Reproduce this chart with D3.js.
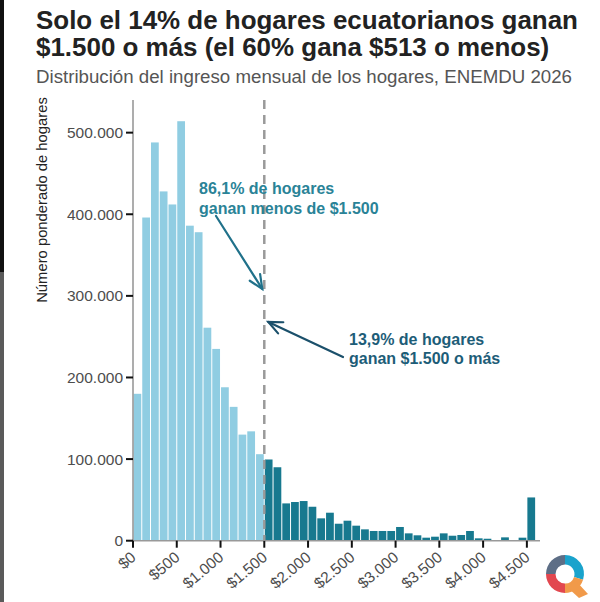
<!DOCTYPE html>
<html>
<head>
<meta charset="utf-8">
<script src="https://cdn.jsdelivr.net/npm/d3@7"></script>
<style>
  html, body { margin: 0; padding: 0; background: #fff; }
  svg { display: block; font-family: "Liberation Sans", Arial, sans-serif; }
</style>
</head>
<body>
<svg id="chart" width="600" height="602"></svg>
<script>
// ---- Data ----
const binStart = [0,100,200,300,400,500,600,700,800,900,1000,1100,1200,1300,1400,
  1500,1600,1700,1800,1900,2000,2100,2200,2300,2400,2500,2600,2700,2800,2900,
  3000,3100,3200,3300,3400,3500,3600,3700,3800,3900,4000,4100,4200,4300,4400,4500];
const households = [180000,396000,488000,428000,412000,514000,386000,378000,261000,235000,
  188000,164000,130000,134000,106000,
  99500,90000,45700,47400,48600,41600,27400,34300,20800,24500,18400,13900,11900,11900,11900,
  16800,9000,6600,3700,4900,9000,6100,7000,11900,2900,2400,0,4100,0,3700,53000];
const binWidth = 100;
const threshold = 1500;
const yTicks = [0,100000,200000,300000,400000,500000];
const xTicks = [0,500,1000,1500,2000,2500,3000,3500,4000,4500];
const titleLines = ["Solo el 14% de hogares ecuatorianos ganan", "$1.500 o más (el 60% gana $513 o menos)"];
const subtitle = "Distribución del ingreso mensual de los hogares, ENEMDU 2026";
const yTitle = "Número ponderado de hogares";
const noteLow = ["86,1% de hogares", "ganan menos de $1.500"];
const noteHigh = ["13,9% de hogares", "ganan $1.500 o más"];

// ---- Setup ----
const svg = d3.select("#chart");
const locale = d3.formatLocale({decimal: ",", thousands: ".", grouping: [3], currency: ["$", ""]});
const fmtY = locale.format(",");
const fmtX = v => "$" + locale.format(",")(v);

const x = d3.scaleLinear().domain([0, 4650]).range([133, 540]);
const y = d3.scaleLinear().domain([0, 540000]).range([540.7, 100]);

const colLight = "#90cde2", colDark = "#17798f";

// screenshot edge strip
svg.append("rect").attr("x",0).attr("y",0).attr("width",4).attr("height",272).attr("fill","#111");
svg.append("rect").attr("x",0).attr("y",272).attr("width",4).attr("height",330).attr("fill","#5a5a5a");

// ---- Titles ----
function fit(sel, w) {
  const len = sel.node().getComputedTextLength();
  const fs = parseFloat(sel.attr("font-size"));
  sel.attr("font-size", (fs * w / len).toFixed(2));
}
const t1 = svg.append("text").attr("x",36).attr("y",29).attr("font-size",25).attr("font-weight","bold").attr("fill","#222").text(titleLines[0]);
fit(t1, 542);
svg.append("text").attr("x",36).attr("y",56).attr("font-size",t1.attr("font-size")).attr("font-weight","bold").attr("fill","#222").text(titleLines[1]);
const st = svg.append("text").attr("x",36).attr("y",83).attr("font-size",17).attr("fill","#555").text(subtitle);
fit(st, 536);

// ---- Bars ----
svg.append("g").selectAll("rect").data(binStart).join("rect")
  .attr("x", (d) => x(d) + 0.5)
  .attr("width", (d) => x(d + binWidth) - x(d) - 1)
  .attr("y", (d, i) => y(households[i]))
  .attr("height", (d, i) => y(0) - y(households[i]))
  .attr("fill", (d) => d < threshold ? colLight : colDark);

// ---- Axes ----
const tickFont = 15.5;
const yAxis = svg.append("g");
yAxis.append("line").attr("x1", x(0)).attr("x2", x(0)).attr("y1", y.range()[1]).attr("y2", y(0)).attr("stroke","#999").attr("stroke-width",1.6);
yAxis.selectAll("line.tk").data(yTicks).join("line").attr("class","tk")
  .attr("x1", x(0) - 7).attr("x2", x(0)).attr("y1", d => y(d)).attr("y2", d => y(d))
  .attr("stroke","#111").attr("stroke-width",2);
yAxis.selectAll("text").data(yTicks).join("text")
  .attr("x", x(0) - 10).attr("y", d => y(d)).attr("dy","0.36em")
  .attr("text-anchor","end").attr("font-size",tickFont).attr("fill","#4d4d4d")
  .text(fmtY);

const xAxis = svg.append("g");
xAxis.append("line").attr("x1", x(0)).attr("x2", x.range()[1]).attr("y1", y(0)).attr("y2", y(0)).attr("stroke","#999").attr("stroke-width",1.6);
xAxis.selectAll("line.tk").data(xTicks).join("line").attr("class","tk")
  .attr("x1", d => x(d)).attr("x2", d => x(d)).attr("y1", y(0)).attr("y2", y(0) + 7)
  .attr("stroke","#111").attr("stroke-width",2);
xAxis.selectAll("text").data(xTicks).join("text")
  .attr("transform", d => `translate(${x(d) - 3},${y(0) + 10}) rotate(-40)`)
  .attr("text-anchor","end").attr("dy","0.7em").attr("font-size",tickFont).attr("fill","#4d4d4d")
  .text(fmtX);

svg.append("text")
  .attr("transform", `translate(47,200) rotate(-90)`)
  .attr("text-anchor","middle").attr("font-size",14.8).attr("fill","#222")
  .text(yTitle);

// ---- Threshold line ----
svg.append("line").attr("x1", x(threshold)).attr("x2", x(threshold))
  .attr("y1", y.range()[1]).attr("y2", y(0))
  .attr("stroke","#9a9a9a").attr("stroke-width",2.5).attr("stroke-dasharray","9,6");

// ---- Annotations ----
function arrow(x1, y1, x2, y2, color) {
  const g = svg.append("g").attr("stroke", color).attr("stroke-width", 2.2).attr("fill","none").attr("stroke-linecap","round");
  g.append("line").attr("x1",x1).attr("y1",y1).attr("x2",x2).attr("y2",y2);
  const a = Math.atan2(y2 - y1, x2 - x1), L = 15, s = 0.42;
  g.append("polyline").attr("points", [
    [x2 - L*Math.cos(a - s), y2 - L*Math.sin(a - s)], [x2, y2],
    [x2 - L*Math.cos(a + s), y2 - L*Math.sin(a + s)]].map(p => p.join(",")).join(" "));
}
const cLow = "#2a8397", cHigh = "#1d5d78";
svg.append("g").selectAll("text").data(noteLow).join("text")
  .attr("x",199).attr("y",(d,i) => 194 + i*20).attr("font-size",16).attr("font-weight","bold").attr("fill",cLow).text(d => d);
arrow(216, 216, x(threshold) - 2, 289, "#20718a");
svg.append("g").selectAll("text").data(noteHigh).join("text")
  .attr("x",349).attr("y",(d,i) => 345 + i*19).attr("font-size",16).attr("font-weight","bold").attr("fill",cHigh).text(d => d);
arrow(343, 357, x(threshold) + 4, 322, "#1b506b");

// ---- Logo ----
const logo = svg.append("g").attr("transform","translate(565,574)");
const arc = d3.arc().innerRadius(9.5).outerRadius(19);
const segs = [
  {s: -Math.PI/2, e: 0, c: "#5d6e86"},
  {s: 0, e: Math.PI*0.6, c: "#1aa3cc"},
  {s: Math.PI, e: Math.PI*1.5, c: "#e2474f"},
];
logo.selectAll("path.seg").data(segs).join("path").attr("class","seg")
  .attr("d", d => arc({startAngle: d.s, endAngle: d.e})).attr("fill", d => d.c);
logo.append("path").attr("d", arc({startAngle: Math.PI*0.6, endAngle: Math.PI})).attr("fill","#f19a4a");
logo.append("path").attr("d","M2,13 L11,7 L23,20 L14,24 Z").attr("fill","#f19a4a");
</script>
</body>
</html>
